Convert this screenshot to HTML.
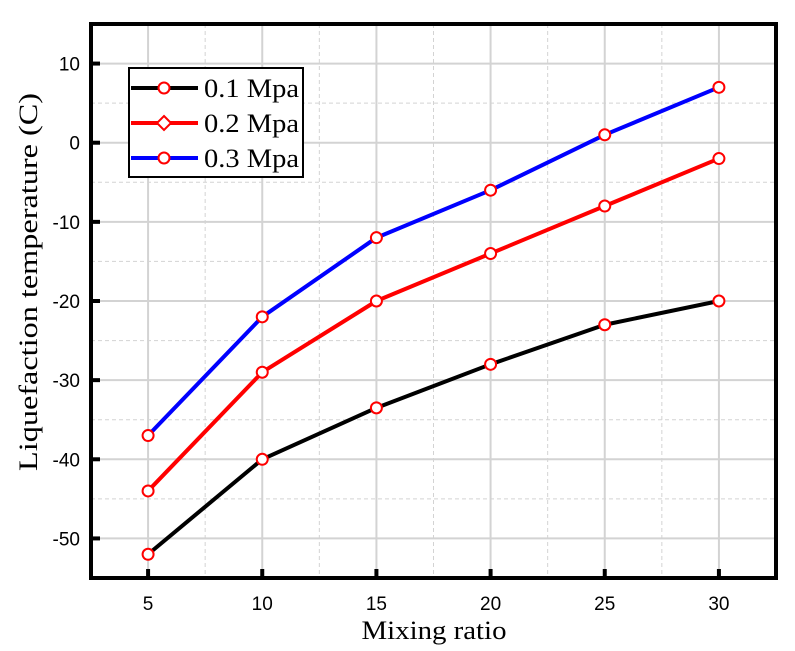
<!DOCTYPE html>
<html><head><meta charset="utf-8"><style>
body{margin:0;background:#fff}
svg{display:block}
</style></head><body>
<svg id="chart" width="795" height="651" xmlns="http://www.w3.org/2000/svg"></svg>
<script>
const categories=[5,10,15,20,25,30];
const series01=[-52,-40,-33.5,-28,-23,-20];
const series02=[-44,-29,-20,-14,-8,-2];
const series03=[-37,-22,-12,-6,1,7];
const yTicks=[10,0,-10,-20,-30,-40,-50];
const xTicks=[5,10,15,20,25,30];
const seriesNames=["0.1 Mpa","0.2 Mpa","0.3 Mpa"];

const NS="http://www.w3.org/2000/svg";
const svg=document.getElementById('chart');
const L=91,R=776,T=24,B=578;
const X0=2.5,X1=32.5,Y0=-55,Y1=15;
const xs=v=>L+(v-X0)/(X1-X0)*(R-L);
const ys=v=>B-(v-Y0)/(Y1-Y0)*(B-T);
function mk(tag,attrs,parent){const e=document.createElementNS(NS,tag);for(const k in attrs)e.setAttribute(k,attrs[k]);(parent||svg).appendChild(e);return e;}

const grid=mk('g',{});


for(let v=X0;v<=X1+0.01;v+=2.5){
  const major=Math.abs(v%5)<0.01;
  const l=mk('line',{x1:xs(v),x2:xs(v),y1:T,y2:B,stroke:'#d3d3d3','stroke-width':major?2:1,'stroke-dasharray':major?'':'4,3'},grid);
  
  
}
for(let v=Y0;v<=Y1+0.01;v+=5){
  const major=Math.abs(v%10)<0.01;
  const l=mk('line',{x1:L,x2:R,y1:ys(v),y2:ys(v),stroke:'#d3d3d3','stroke-width':major?2:1,'stroke-dasharray':major?'':'4,3'},grid);
  
  
}

const colors=['#000','#f00','#00f'];
const allSeries=[series01,series02,series03];
allSeries.forEach((s,i)=>{
  const g=mk('g',{});
  
  
  const p=mk('polyline',{points:s.map((v,j)=>xs(categories[j])+','+ys(v)).join(' '),fill:'none',stroke:colors[i],'stroke-width':4,'stroke-linejoin':'round'},g);
  
  
  s.forEach((v,j)=>{
    const c=mk('circle',{cx:xs(categories[j]),cy:ys(v),r:5.5,fill:'#fff',stroke:'#f00','stroke-width':2},g);
    
    
  });
});

const frame=mk('rect',{x:L,y:T,width:R-L,height:B-T,fill:'none',stroke:'#000','stroke-width':4});



xTicks.forEach(v=>{
  const t=mk('line',{x1:xs(v),x2:xs(v),y1:B,y2:B-9,stroke:'#000','stroke-width':4});
  
  
  const tx=mk('text',{x:xs(v),y:B+32,'text-anchor':'middle','font-family':'Liberation Sans, sans-serif','font-size':19});
  tx.textContent=v;
  
  
});
yTicks.forEach(v=>{
  const t=mk('line',{x1:L,x2:L+9,y1:ys(v),y2:ys(v),stroke:'#000','stroke-width':4});
  
  
  const tx=mk('text',{x:L-11,y:ys(v)+7,'text-anchor':'end','font-family':'Liberation Sans, sans-serif','font-size':19});
  tx.textContent=v;
  
  
});

const xt=mk('text',{x:434,y:639,'text-anchor':'middle','font-family':'Liberation Serif, serif','font-size':26,textLength:145,lengthAdjust:'spacingAndGlyphs'});
xt.textContent='Mixing ratio';


const yt=mk('text',{x:0,y:0,'text-anchor':'middle','font-family':'Liberation Serif, serif','font-size':26,textLength:378,lengthAdjust:'spacingAndGlyphs',transform:'translate(37,282) rotate(-90)'});
yt.textContent='Liquefaction temperature (C)';



const leg=mk('g',{});


const lb=mk('rect',{x:129,y:68,width:174,height:109,fill:'#fff',stroke:'#000','stroke-width':2},leg);


seriesNames.forEach((n,i)=>{
  const y=88+i*35;
  const e=mk('g',{},leg);
  
  
  mk('line',{x1:131,x2:198,y1:y,y2:y,stroke:colors[i],'stroke-width':4},e);
  if(i===1) mk('polygon',{points:`164,${y-7} 171,${y} 164,${y+7} 157,${y}`,fill:'#fff',stroke:'#f00','stroke-width':2},e);
  else mk('circle',{cx:164,cy:y,r:5.5,fill:'#fff',stroke:'#f00','stroke-width':2},e);
  const t=mk('text',{x:204,y:y+9,'font-family':'Liberation Serif, serif','font-size':26,textLength:95,lengthAdjust:'spacingAndGlyphs'},e);
  t.textContent=n;
});
</script>
</body></html>
